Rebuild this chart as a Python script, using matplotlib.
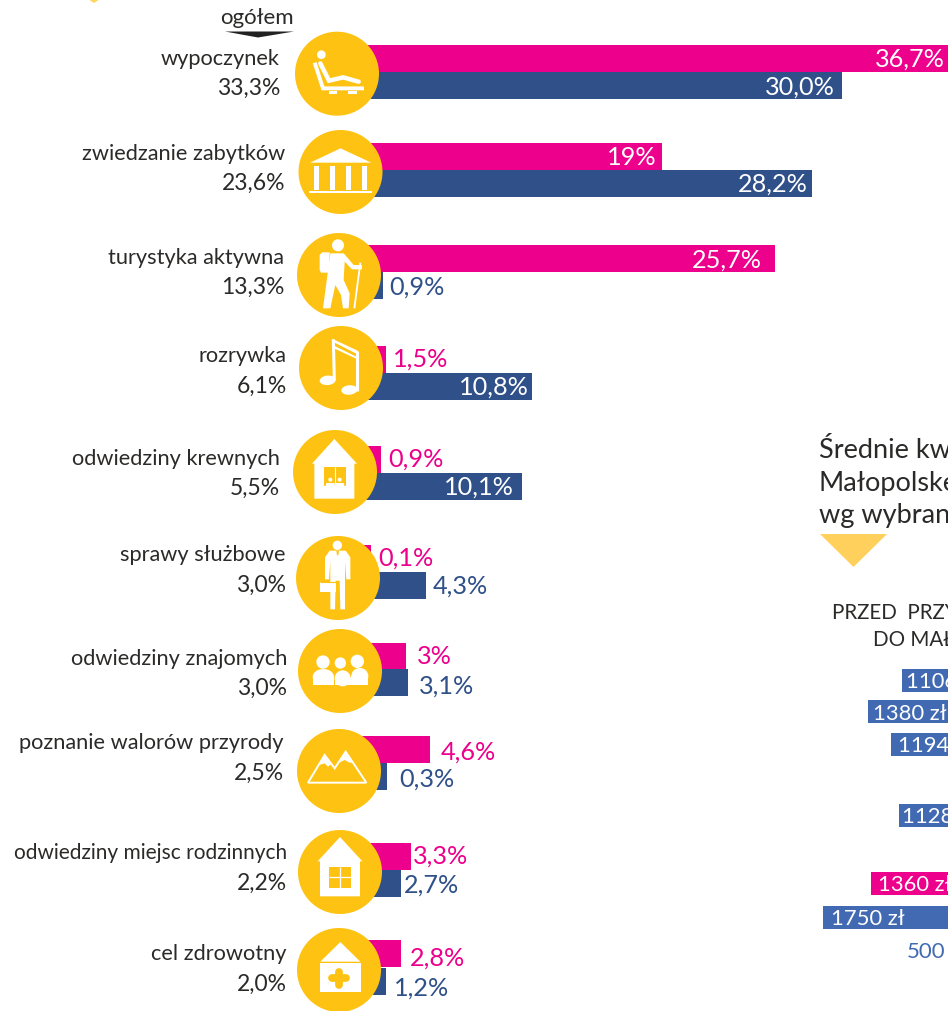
#!/usr/bin/env python3
# -*- coding: utf-8 -*-
import numpy as np
import matplotlib
matplotlib.use("Agg")
import matplotlib.pyplot as plt
from matplotlib.patches import Circle, Ellipse, Polygon, Rectangle

### data
categories = ["wypoczynek", "zwiedzanie zabytków", "turystyka aktywna", "rozrywka",
              "odwiedziny krewnych", "sprawy służbowe", "odwiedziny znajomych",
              "poznanie walorów przyrody", "odwiedziny miejsc rodzinnych", "cel zdrowotny"]
overall = ["33,3%", "23,6%", "13,3%", "6,1%", "5,5%", "3,0%", "3,0%", "2,5%", "2,2%", "2,0%"]
pink_values = [36.7, 19, 25.7, 1.5, 0.9, 0.1, 3, 4.6, 3.3, 2.8]
pink_labels = ["36,7%", "19%", "25,7%", "1,5%", "0,9%", "0,1%", "3%", "4,6%", "3,3%", "2,8%"]
blue_values = [30.0, 28.2, 0.9, 10.8, 10.1, 4.3, 3.1, 0.3, 2.7, 1.2]
blue_labels = ["30,0%", "28,2%", "0,9%", "10,8%", "10,1%", "4,3%", "3,1%", "0,3%", "2,7%", "1,2%"]

cost_values = [1106, 1380, 1194, 1128, 1360, 1750]
cost_labels = ["1106 zł", "1380 zł", "1194 zł", "1128 zł", "1360 zł", "1750 zł"]

### layout (pixels of the picture)
scale = 16.7
hidden = 20  # bars run on behind the circles
pink_start = [345, 345, 346, 361, 366, 369, 356, 353, 356, 354]
blue_start = [341, 341, 368, 352, 353, 354, 356, 382, 356, 366]
pink_top = [45, 143, 245, 346, 446, 545, 643, 736, 843, 940]
blue_top = [72, 170, 272, 373, 473, 572, 669, 763, 870, 968]
bar_h = 27
pink_gap = [-13, -6, -13, 7, 7, 8, 11, 11, 2, 9]
blue_gap = [-7, -4, 6, -4, -8, 7, 11, 12, 3, 8]
pink_y = [58, 156, 259, 358, 458, 557, 656, 751, 855, 957]
blue_y = [86, 183, 286, 386, 486, 585, 685, 778, 884, 987]
circle_x = [337, 340.5, 339, 341, 335, 338, 340, 339, 340, 339]
circle_y = [73.7, 172, 275, 368, 472, 578, 671, 771, 872, 970]
name_x = [280, 285, 284, 287, 280, 286, 287, 284, 287, 287]
name_y = [58, 153, 257, 355, 458, 554, 658, 742, 852, 953]
name_size = [15.7, 15.7, 15.7, 15.7, 15.7, 15.7, 15.7, 15.7, 15, 15.7]
total_y = [87, 182, 286, 385, 487, 584, 687, 772, 882, 983]

cost_zero = 1036
cost_scale = 0.1216
cost_top = [669, 700, 733, 804, 872, 906]
cost_h = 23
cost_text_x = [906, 873, 898, 902, 878, 831]
cost_colors = ["#416ab3", "#416ab3", "#416ab3", "#416ab3", "#ec008c", "#416ab3"]

PINK = "#ec008c"
BLUE = "#2f5088"
YELLOW = "#fec312"
TEXT = "#2b2a29"
WHITE = "white"
FONT = "Lato"

plt.rcParams["font.family"] = [FONT, "DejaVu Sans"]

fig = plt.figure(figsize=(9.48, 10.12), dpi=100)
ax = fig.add_axes([0, 0, 1, 1])
ax.set_xlim(0, 948)
ax.set_ylim(1011, -1)
ax.axis("off")


### icon helpers, coordinates given on a 3x grid around (c0, c1)
def P(cx, cy, c, pts):
    return (np.array(pts, dtype=float) - np.array(c)) / 3 + np.array([cx, cy])


def poly(cx, cy, c, pts, col=WHITE):
    ax.add_patch(Polygon(P(cx, cy, c, pts), closed=True, fc=col, ec="none", zorder=5))


def rect(cx, cy, c, x0, y0, x1, y1, col=WHITE):
    p = P(cx, cy, c, [[x0, y0], [x1, y1]])
    ax.add_patch(Rectangle(p[0], p[1, 0] - p[0, 0], p[1, 1] - p[0, 1], fc=col, ec="none", zorder=5))


def disc(cx, cy, c, x, y, r, col=WHITE):
    p = P(cx, cy, c, [[x, y]])[0]
    ax.add_patch(Circle(p, r / 3, fc=col, ec="none", zorder=5))


def line(cx, cy, c, pts, lw, col=WHITE, cap="butt"):
    p = P(cx, cy, c, pts)
    ax.plot(p[:, 0], p[:, 1], color=col, lw=lw, zorder=5, solid_capstyle=cap, solid_joinstyle="miter")


def chair(x, y):
    c = (1007, 221)
    disc(x, y, c, 960, 164, 13)
    line(x, y, c, [(940, 188), (965, 265), (1088, 265)], 2.8)
    line(x, y, c, [(957, 190), (983, 242), (1025, 232), (1072, 245)], 3.2, cap="round")
    rect(x, y, c, 982, 273, 1008, 281)
    rect(x, y, c, 1041, 273, 1068, 281)


def temple(x, y):
    c = (1021, 516)
    poly(x, y, c, [(930, 488), (1021, 445), (1113, 488)])
    for k in [942, 990, 1038, 1086]:
        rect(x, y, c, k, 498, k + 15, 570)
    rect(x, y, c, 927, 573, 1116, 578)


def hiker(x, y):
    c = (1016, 825)
    disc(x, y, c, 1013, 736, 18)
    poly(x, y, c, [(958, 765), (965, 757), (988, 757), (985, 818), (962, 818), (958, 810)])
    poly(x, y, c, [(990, 760), (1030, 760), (1060, 795), (1085, 795), (1085, 808), (1055, 808),
                   (1033, 785), (1030, 840), (1048, 880), (1045, 925), (1028, 925), (1022, 885),
                   (1005, 855), (990, 925), (968, 925), (978, 850)])
    line(x, y, c, [(1080, 788), (1062, 925)], 1.3)


def notes(x, y):
    c = (184, 144)
    for ex, ey in [(144, 181), (209, 210)]:
        p = P(x, y, c, [[ex, ey]])[0]
        ax.add_patch(Ellipse(p, 16, 9.5, angle=-5, fc=WHITE, ec="none", zorder=5))
    line(x, y, c, [(161, 58), (164, 181)], 2.2)
    line(x, y, c, [(232, 92), (232, 212)], 2.2)
    poly(x, y, c, [(157, 56), (234, 92), (234, 103), (165, 68)])
    poly(x, y, c, [(165, 78), (234, 112), (234, 118), (165, 86)])


def house_people(x, y):
    c = (164, 457)
    poly(x, y, c, [(162, 358), (230, 432), (222, 432), (222, 537), (102, 537), (102, 432), (95, 432)])
    rect(x, y, c, 132, 441, 196, 500, YELLOW)
    line(x, y, c, [(164, 441), (164, 500)], 0.8)
    for k in [150, 178]:
        disc(x, y, c, k, 480, 6)
        poly(x, y, c, [(k - 15, 500), (k - 12, 490), (k + 12, 490), (k + 15, 500)])


def business(x, y):
    c = (175, 774)
    disc(x, y, c, 173, 676, 14)
    poly(x, y, c, [(150, 692), (198, 692), (212, 712), (212, 778), (200, 778), (196, 725), (196, 868),
                   (182, 868), (180, 782), (168, 782), (166, 868), (152, 868), (152, 725), (148, 778),
                   (136, 778), (136, 712)])
    poly(x, y, c, [(170, 692), (178, 692), (176, 706), (172, 706)], YELLOW)
    rect(x, y, c, 120, 787, 168, 816)
    line(x, y, c, [(120, 785), (168, 785)], 0.8, YELLOW)


def people(x, y):
    c = (181, 124)
    for hx, hy, r, x0, x1, top in [(130, 97, 20, 99, 163, 118), (182, 100, 17, 165, 213, 122),
                                   (233, 95, 20, 215, 266, 115)]:
        disc(x, y, c, hx, hy, r)
        p = P(x, y, c, [[(x0 + x1) / 2, top + 24]])[0]
        ax.add_patch(Ellipse(p, (x1 - x0) / 3, 16, fc=WHITE, ec="none", zorder=5))
        rect(x, y, c, x0, top + 24, x1, 165)


def mountains(x, y):
    c = (178, 423)
    p = P(x, y, c, [(85, 458), (135, 375), (165, 415), (198, 365), (260, 458)])
    ax.add_patch(Polygon(p, closed=True, fc="none", ec=WHITE, lw=1.4, zorder=5))
    poly(x, y, c, [(135, 375), (118, 405), (135, 400), (145, 410), (155, 402)])
    poly(x, y, c, [(198, 365), (178, 398), (195, 390), (210, 398), (222, 398)])


def house_window(x, y):
    c = (180, 727)
    poly(x, y, c, [(180, 622), (247, 695), (240, 695), (240, 800), (120, 800), (120, 695), (113, 695)])
    rect(x, y, c, 147, 711, 213, 774, YELLOW)
    line(x, y, c, [(180, 711), (180, 774)], 0.9)
    line(x, y, c, [(147, 742), (213, 742)], 0.9)


def clinic(x, y):
    c = (178, 1020)
    poly(x, y, c, [(182, 936), (242, 995), (122, 995)])
    rect(x, y, c, 120, 999, 243, 1085)
    line(x, y, c, [(158, 1044), (199, 1044)], 5.6, YELLOW, "round")
    line(x, y, c, [(178.5, 1026), (178.5, 1065)], 5.6, YELLOW, "round")


icons = [chair, temple, hiker, notes, house_people, business, people, mountains, house_window, clinic]

### main bars
pink_start = np.array(pink_start)
blue_start = np.array(blue_start)
pink_w = np.array(pink_values) * scale
blue_w = np.array(blue_values) * scale
ax.barh(np.array(pink_top) + bar_h / 2, pink_w + hidden, left=pink_start - hidden, height=bar_h, color=PINK, zorder=2)
ax.barh(np.array(blue_top) + bar_h / 2, blue_w + hidden, left=blue_start - hidden, height=bar_h, color=BLUE, zorder=2)

for i in range(len(categories)):
    ax.add_patch(Circle((circle_x[i], circle_y[i]), 42, fc=YELLOW, ec="none", zorder=4))
    icons[i](circle_x[i], circle_y[i])
    ax.text(name_x[i], name_y[i], categories[i], ha="right", va="center", fontsize=name_size[i], color=TEXT)
    ax.text(name_x[i], total_y[i], overall[i], ha="right", va="center", fontsize=16.5, color=TEXT)

    x_p = pink_start[i] + pink_w[i] + pink_gap[i]
    ax.text(x_p, pink_y[i], pink_labels[i], va="center", fontsize=18.2,
            ha="right" if pink_gap[i] < 0 else "left", color=WHITE if pink_gap[i] < 0 else PINK, zorder=6)
    x_b = blue_start[i] + blue_w[i] + blue_gap[i]
    ax.text(x_b, blue_y[i], blue_labels[i], va="center", fontsize=18.2,
            ha="right" if blue_gap[i] < 0 else "left", color=WHITE if blue_gap[i] < 0 else BLUE, zorder=6)

### header of the left column
ax.text(257, 17, "ogółem", ha="center", va="center", fontsize=16, color=TEXT)
ax.add_patch(Polygon([(225, 31.5), (294, 31.5), (258, 37.5)], closed=True, fc="#222222", ec="none"))
ax.add_patch(Polygon([(88, -1), (100, -1), (94, 3)], closed=True, fc="#ffd35c", ec="none"))

### cut off panel on the right
for txt, yy in [("Średnie kw", 450), ("Małopolske", 483), ("wg wybran", 514)]:
    ax.text(819, yy, txt, ha="left", va="center", fontsize=19.5, color=TEXT, clip_on=True)
ax.add_patch(Polygon([(820, 534), (887, 534), (853.5, 567)], closed=True, fc="#ffd15c", ec="none"))
ax.text(832, 612, "PRZED  PRZY", ha="left", va="center", fontsize=14.8, color=TEXT, clip_on=True)
ax.text(873, 639, "DO MAŁ", ha="left", va="center", fontsize=14.8, color=TEXT, clip_on=True)

cost_w = np.array(cost_values) * cost_scale
ax.barh(np.array(cost_top) + cost_h / 2, cost_w, left=cost_zero - cost_w, height=cost_h, color=cost_colors, zorder=2)
for i in range(len(cost_values)):
    ax.text(cost_text_x[i], cost_top[i] + cost_h / 2 + 1, cost_labels[i], ha="left", va="center",
            fontsize=15.8, color=WHITE, clip_on=True, zorder=6)
ax.text(907, 951, "500", ha="left", va="center", fontsize=16, color="#416ab3", clip_on=True)

fig.savefig("out.png", dpi=100)
